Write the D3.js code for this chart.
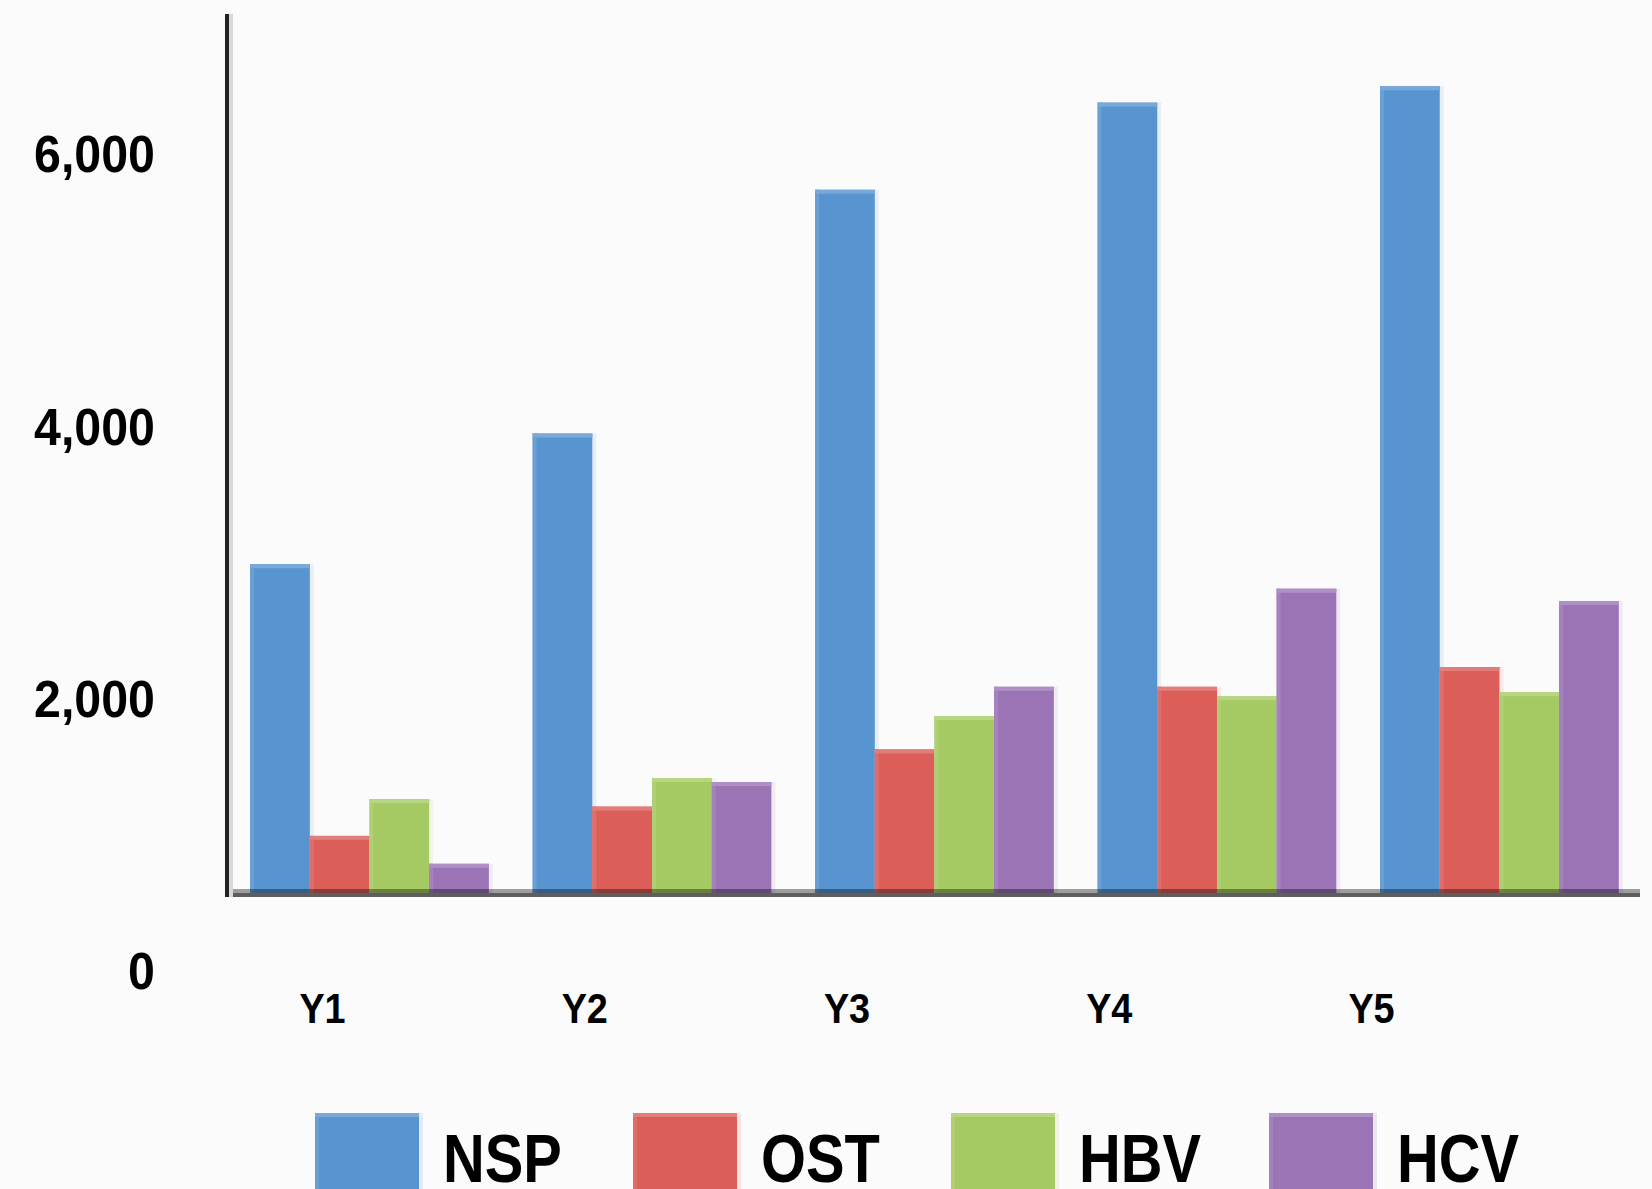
<!DOCTYPE html>
<html>
<head>
<meta charset="utf-8">
<script src="https://cdn.jsdelivr.net/npm/d3@7"></script>
<style>
  html, body { margin: 0; padding: 0; background: #fbfbfc; }
  svg { display: block; }
  text { font-family: "Liberation Sans", Arial, sans-serif; font-weight: bold; fill: #000; }
</style>
</head>
<body>
<svg id="chart" width="1652" height="1189"></svg>
<script>
// data
var years = ["Y1", "Y2", "Y3", "Y4", "Y5"];
var series = ["NSP", "OST", "HBV", "HCV"];
var nsp = [2980, 3940, 5730, 6370, 6490];
var ost = [985, 1200, 1620, 2080, 2225];
var hbv = [1255, 1410, 1865, 2010, 2040];
var hcv = [780, 1380, 2080, 2800, 2710];
var yTicks = [0, 2000, 4000, 6000];
var colors = ["#5794d0", "#db5e59", "#a5ca63", "#9b74b6"];

var values = [nsp, ost, hbv, hcv];
var rows = [];
years.forEach(function(yr, i) {
  series.forEach(function(s, j) {
    rows.push({ year: yr, key: s, value: values[j][i], color: colors[j] });
  });
});

var svg = d3.select("#chart");
var W = 1652, H = 1189;

svg.append("rect").attr("width", W).attr("height", H).attr("fill", "#fbfbfc");

// the bars sit on this line; tick labels use the value scale below
var axisLeftX = 229, axisRightX = 1640, baseY = 893, axisTopY = 14;

var x0 = d3.scaleBand()
  .domain(years)
  .range([axisLeftX, axisRightX])
  .paddingInner(0.155)
  .paddingOuter(0.075);

var x1 = d3.scaleBand()
  .domain(series)
  .range([0, x0.bandwidth()]);

var y = d3.scaleLinear()
  .domain([0, 6000])
  .range([970, 153]);

function lighter(c, k) {
  return d3.interpolateRgb(c, "#ffffff")(k);
}

var bars = svg.append("g");

// faint glow right of each bar
bars.selectAll(".glow")
  .data(rows)
  .join("rect")
  .attr("class", "glow")
  .attr("x", function(d) { return x0(d.year) + x1(d.key) + x1.bandwidth(); })
  .attr("y", function(d) { return y(d.value); })
  .attr("width", 4)
  .attr("height", function(d) { return baseY - y(d.value); })
  .attr("fill", function(d) { return d.color; })
  .attr("opacity", 0.12);

var bar = bars.selectAll(".bar")
  .data(rows)
  .join("g")
  .attr("class", "bar")
  .attr("transform", function(d) { return "translate(" + (x0(d.year) + x1(d.key)) + ",0)"; });

bar.append("rect")
  .attr("y", function(d) { return y(d.value); })
  .attr("width", x1.bandwidth())
  .attr("height", function(d) { return baseY - y(d.value); })
  .attr("fill", function(d) { return d.color; });

// lighter left edge
bar.append("rect")
  .attr("y", function(d) { return y(d.value); })
  .attr("width", 4)
  .attr("height", function(d) { return baseY - y(d.value); })
  .attr("fill", function(d) { return lighter(d.color, 0.1); });

// lighter top edge
bar.append("rect")
  .attr("y", function(d) { return y(d.value); })
  .attr("width", x1.bandwidth())
  .attr("height", 4)
  .attr("fill", function(d) { return lighter(d.color, 0.2); });

// x axis line
svg.append("rect")
  .attr("x", axisLeftX - 4).attr("y", baseY - 4)
  .attr("width", axisRightX - axisLeftX + 4).attr("height", 4)
  .attr("fill", "#000").attr("opacity", 0.37);
svg.append("rect")
  .attr("x", axisLeftX - 4).attr("y", baseY)
  .attr("width", axisRightX - axisLeftX + 4).attr("height", 4)
  .attr("fill", "#5e5e5e");

// y axis line
svg.append("rect")
  .attr("x", axisLeftX).attr("y", axisTopY)
  .attr("width", 4).attr("height", baseY + 4 - axisTopY)
  .attr("fill", "#d9d9d9");
svg.append("rect")
  .attr("x", axisLeftX - 4).attr("y", axisTopY)
  .attr("width", 4).attr("height", baseY + 4 - axisTopY)
  .attr("fill", "#222");

// y tick labels
var yAxis = svg.append("g")
  .attr("transform", "translate(155,0)")
  .call(d3.axisLeft(y).tickValues(yTicks).tickFormat(d3.format(",")).tickSize(0).tickPadding(0));
yAxis.select(".domain").remove();
yAxis.selectAll("text")
  .attr("x", 0)
  .attr("dy", "0.36em")
  .attr("font-size", 52)
  .attr("font-family", null)
  .attr("transform", "scale(0.93,1)");

// x labels (their spacing differs from the bar groups in the picture)
var xl = d3.scalePoint().domain(years).range([322, 1371]);
var xAxis = svg.append("g")
  .attr("transform", "translate(0,1023)")
  .call(d3.axisBottom(xl).tickSize(0).tickPadding(0));
xAxis.select(".domain").remove();
xAxis.selectAll("text")
  .attr("y", 0)
  .attr("dy", 0)
  .attr("font-size", 42)
  .attr("font-family", null)
  .attr("transform", "scale(0.9,1)");

// legend
var legend = svg.append("g")
  .selectAll("g")
  .data(series)
  .join("g")
  .attr("transform", function(d, i) { return "translate(" + (315 + i * 318) + ",1113)"; });

legend.append("rect")
  .attr("x", 104).attr("width", 4).attr("height", 90)
  .attr("fill", function(d, i) { return colors[i]; })
  .attr("opacity", 0.15);
legend.append("rect")
  .attr("width", 104).attr("height", 90)
  .attr("fill", function(d, i) { return colors[i]; });
legend.append("rect")
  .attr("width", 4).attr("height", 90)
  .attr("fill", function(d, i) { return lighter(colors[i], 0.1); });
legend.append("rect")
  .attr("width", 104).attr("height", 4)
  .attr("fill", function(d, i) { return lighter(colors[i], 0.2); });

legend.append("text")
  .attr("transform", "translate(128,69) scale(0.85,1)")
  .attr("font-size", 68)
  .text(function(d) { return d; });
</script>
</body>
</html>
